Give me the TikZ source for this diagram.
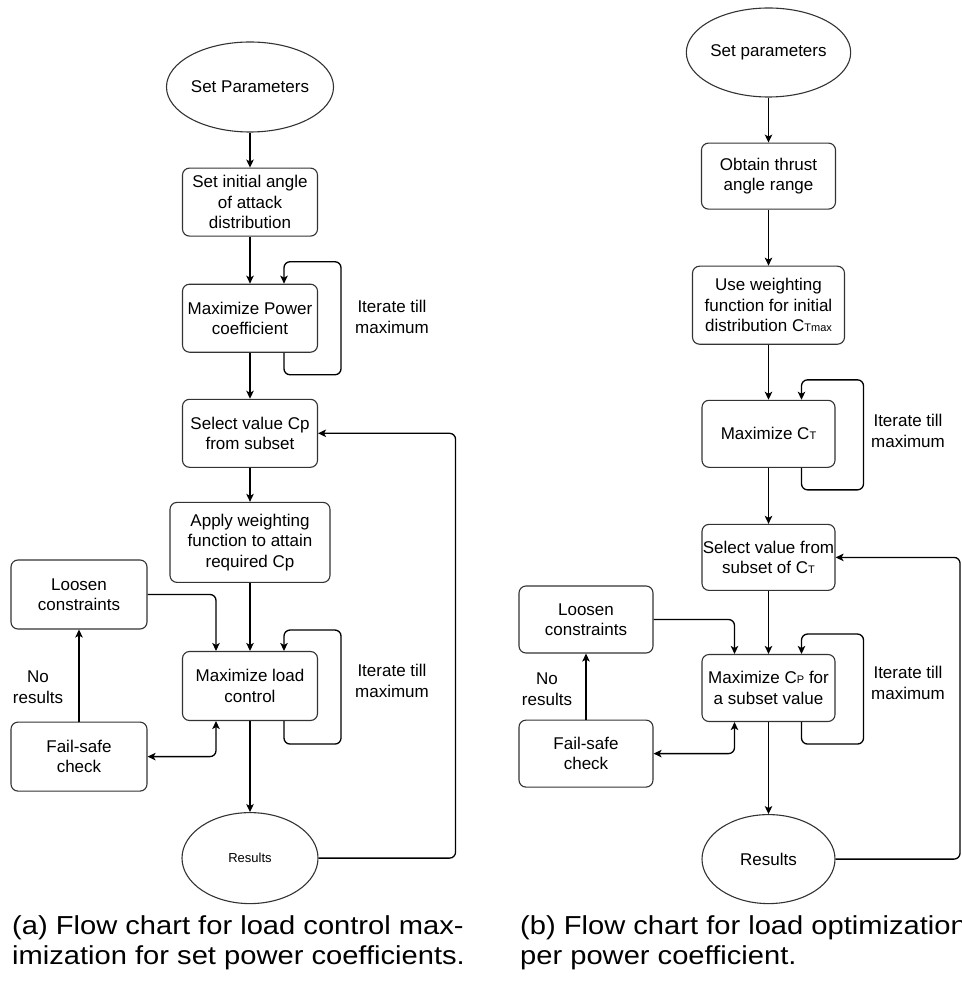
\documentclass[tikz,border=0pt]{standalone}
\usepackage{fontspec}
\setmainfont{Liberation Sans}
\usetikzlibrary{shapes.geometric,arrows.meta,positioning}
\definecolor{linegray}{HTML}{333333}
\newcommand{\smallsub}[1]{{\fontsize{11}{11}\selectfont #1}}

\begin{document}
\begin{tikzpicture}[
    x=1pt, y=-1pt,
    block/.style={rectangle, draw=linegray, line width=1.1pt, rounded corners=7pt, align=center, minimum width=135pt, minimum height=68pt, inner sep=0pt, font=\fontsize{17}{20.5}\selectfont},
    oval/.style={ellipse, draw=linegray, line width=1.1pt, align=center, inner sep=0pt, font=\fontsize{17}{20.5}\selectfont},
    note/.style={align=center, inner sep=0pt, font=\fontsize{17}{20.5}\selectfont},
    figcap/.style={anchor=west, align=left, inner sep=0pt, font=\fontsize{26}{29.5}\selectfont\addfontfeatures{FakeStretch=1.12}},
    arrow/.style={-{Stealth[length=8pt,width=7.5pt,inset=2pt]}, line width=1.3pt, rounded corners=6pt}
]
\clip (0,0) rectangle (961,981);

% (a) load control maximization
\node[oval, minimum width=138pt, minimum height=90pt] (a1) at (250,87) {Set Parameters};
\node[block, below=35pt of a1] (a2) {Set initial angle\\of attack\\distribution};
\node[block, below=47pt of a2] (a3) {Maximize Power\\coefficient};
\node[block, below=46pt of a3] (a4) {Select value Cp\\from subset};
\node[block, below=34pt of a4, minimum width=160pt, minimum height=80pt] (a5) {Apply weighting\\function to attain\\required Cp};
\node[block, below=68pt of a5, minimum height=69pt] (a6) {Maximize load\\control};
\node[oval, below=91pt of a6, minimum width=136pt, minimum height=91pt, font=\fontsize{13}{15}\selectfont] (a7) {Results};
\node[block, minimum width=136pt, minimum height=69pt] (aL) at (79,594.5) {Loosen\\constraints};
\node[block, below=92pt of aL, minimum width=136pt, minimum height=69pt] (aF) {Fail-safe\\check};
\node[note] (aI1) at (392,317) {Iterate till\\maximum};
\node[note] (aI2) at (392,681) {Iterate till\\maximum};
\node[note] (aN) at (38,687) {No\\results};

\draw[arrow] (a1) -- (a2);
\draw[arrow] (a2) -- (a3);
\draw[arrow] (a3) -- (a4);
\draw[arrow] (a4) -- (a5);
\draw[arrow] (a5) -- (a6);
\draw[arrow] (a6) -- (a7);
\draw[arrow] ([xshift=34pt]a3.south) -- ++(0,22) -- ++(57,0) -- ++(0,-113) -- ++(-57,0) -- ([xshift=34pt]a3.north);
\draw[arrow] ([xshift=34pt]a6.south) -- ++(0,23) -- ++(57,0) -- ++(0,-114) -- ++(-57,0) -- ([xshift=34pt]a6.north);
\draw[arrow] (aL.east) -| ([xshift=-34pt]a6.north);
\draw[arrow, {Stealth[length=8pt,width=7.5pt,inset=2pt]}-{Stealth[length=8pt,width=7.5pt,inset=2pt]}] (aF.east) -| ([xshift=-34pt]a6.south);
\draw[arrow] (aF) -- (aL);
\draw[arrow] (a7.east) -- ++(137,0) |- (a4.east);

% (b) load optimization
\node[oval, minimum width=133pt, minimum height=89pt] (b1) at (768.5,52.5) {Set parameters};
\node[block, below=45pt of b1, minimum width=134pt, minimum height=66pt] (b2) {Obtain thrust\\angle range};
\node[block, below=56pt of b2, minimum width=152pt, minimum height=78pt] (b3) {Use weighting\\function for initial\\distribution C\smallsub{Tmax}};
\node[block, below=55pt of b3, minimum width=133pt, minimum height=67pt] (b4) {Maximize C\smallsub{T}};
\node[block, below=56pt of b4, minimum width=133pt, minimum height=66pt] (b5) {Select value from\\subset of C\smallsub{T}};
\node[block, below=63pt of b5, minimum width=133pt, minimum height=67pt] (b6) {Maximize C\smallsub{P} for\\a subset value};
\node[oval, below=92pt of b6, minimum width=133pt, minimum height=89pt] (b7) {Results};
\node[block, minimum width=134pt, minimum height=67pt] (bL) at (586,619.5) {Loosen\\constraints};
\node[block, below=66pt of bL, minimum width=134pt, minimum height=67pt] (bF) {Fail-safe\\check};
\node[note] (bI1) at (908,431) {Iterate till\\maximum};
\node[note] (bI2) at (908,683) {Iterate till\\maximum};
\node[note] (bN) at (547,689) {No\\results};

\draw[arrow] (b1) -- (b2);
\draw[arrow] (b2) -- (b3);
\draw[arrow] (b3) -- (b4);
\draw[arrow] (b4) -- (b5);
\draw[arrow] (b5) -- (b6);
\draw[arrow] (b6) -- (b7);
\draw[arrow] ([xshift=33pt]b4.south) -- ++(0,22) -- ++(62,0) -- ++(0,-110) -- ++(-62,0) -- ([xshift=33pt]b4.north);
\draw[arrow] ([xshift=33pt]b6.south) -- ++(0,22) -- ++(62,0) -- ++(0,-110) -- ++(-62,0) -- ([xshift=33pt]b6.north);
\draw[arrow] (bL.east) -| ([xshift=-34pt]b6.north);
\draw[arrow, {Stealth[length=8pt,width=7.5pt,inset=2pt]}-{Stealth[length=8pt,width=7.5pt,inset=2pt]}] (bF.east) -| ([xshift=-34pt]b6.south);
\draw[arrow] (bF) -- (bL);
\draw[arrow] (b7.east) -- ++(124.5,0) |- (b5.east);

% captions
\node[figcap] (capa) at (12,943) {(a) Flow chart for load control max-\\imization for set power coefficients.};
\node[figcap] (capb) at (520,943) {(b) Flow chart for load optimization\\per power coefficient.};
\end{tikzpicture}
\end{document}
